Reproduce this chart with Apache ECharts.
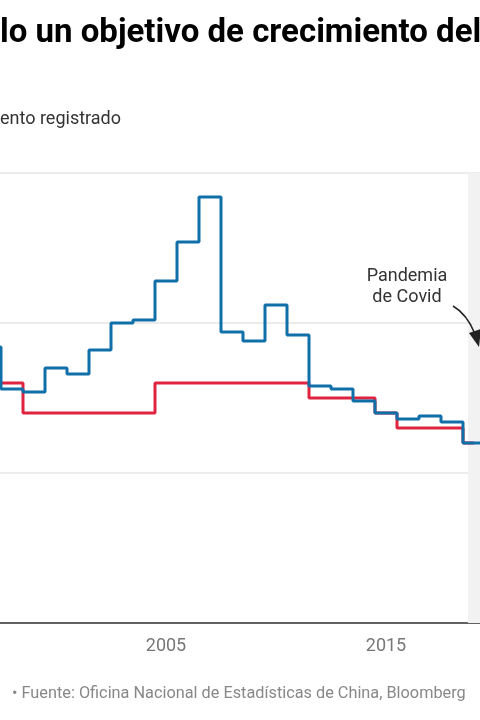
<!DOCTYPE html>
<html>
<head>
<meta charset="utf-8">
<script src="https://cdn.jsdelivr.net/npm/echarts@6/dist/echarts.min.js"></script>
<style>
  html,body{margin:0;padding:0;background:#fff;}
  #chart{width:480px;height:720px;}
</style>
</head>
<body>
<div id="chart"></div>
<script>
// datos: crecimiento del PIB de China (%) y objetivo oficial
var anios = [1997, 1998, 1999, 2000, 2001, 2002, 2003, 2004, 2005, 2006, 2007, 2008,
             2009, 2010, 2011, 2012, 2013, 2014, 2015, 2016, 2017, 2018, 2019, 2020];
var registrado = [9.2, 7.8, 7.7, 8.5, 8.3, 9.1, 10.0, 10.1, 11.4, 12.7, 14.2, 9.7,
                  9.4, 10.6, 9.6, 7.9, 7.8, 7.4, 7.0, 6.8, 6.9, 6.7, 6.0, 2.2];
var objetivo = [8, 8, 7, 7, 7, 7, 7, 7, 8, 8, 8, 8,
                8, 8, 8, 7.5, 7.5, 7.5, 7, 6.5, 6.5, 6.5, 6];
var ticksX = [2005, 2015];
var ticksY = [0, 5, 10, 15];
var pandemia = [2018.73, 2020];

(function(){
  var myChart = echarts.init(document.getElementById('chart'));
  var font = 'Roboto, "Noto Sans", sans-serif';

  var serieObjetivo = objetivo.map(function(v, i){ return [anios[i], v]; });
  var serieRegistrado = registrado.map(function(v, i){ return [anios[i], v]; });

  // el grafico esta recortado: 22 px por año, 2005 en x=166
  var option = {
    animation: false,
    textStyle: { fontFamily: font },
    grid: { left: 0, right: 0, top: 173, bottom: 97 },
    xAxis: {
      type: 'value',
      min: 2005 - 166 / 22,
      max: 2005 + 314 / 22,
      axisLine: { show: true, lineStyle: { color: '#333', width: 1.5 } },
      axisTick: { show: false },
      splitLine: { show: false },
      axisLabel: {
        color: '#777', fontSize: 18, margin: 14, fontFamily: font,
        customValues: ticksX,
        formatter: function(v){ return String(v); }
      }
    },
    yAxis: {
      type: 'value',
      min: ticksY[0],
      max: ticksY[ticksY.length - 1],
      interval: 5,
      axisLine: { show: false },
      axisTick: { show: false },
      axisLabel: { show: false },
      splitLine: { lineStyle: { color: '#e6e6e6', width: 1.5 } }
    },
    series: [
      {
        name: 'Objetivo',
        type: 'line',
        step: 'middle',
        symbol: 'none',
        data: serieObjetivo,
        lineStyle: { color: '#e0233f', width: 3 },
        markArea: {
          silent: true,
          itemStyle: { color: '#f2f2f2' },
          data: [[{ xAxis: pandemia[0] }, { xAxis: pandemia[1] }]]
        }
      },
      {
        name: 'Crecimiento registrado',
        type: 'line',
        step: 'middle',
        symbol: 'none',
        data: serieRegistrado,
        lineStyle: { color: '#0f6fa8', width: 3 }
      }
    ],
    graphic: [
      {
        type: 'text', x: 0, y: 34, z: 10,
        style: { text: 'lo un objetivo de crecimiento del', fontSize: 33, fontWeight: 'bold',
                 fontFamily: font, fill: '#000', verticalAlign: 'middle' }
      },
      {
        type: 'text', x: 0, y: 119, z: 10,
        style: { text: 'ento registrado', fontSize: 18, fontFamily: font, fill: '#333', verticalAlign: 'middle' }
      },
      {
        type: 'text', x: 407, y: 266, z: 10,
        style: { text: 'Pandemia\nde Covid', fontSize: 18, lineHeight: 21, fontFamily: font,
                 fill: '#333', align: 'center', verticalAlign: 'top' }
      },
      {
        type: 'bezierCurve', z: 10,
        shape: { x1: 453, y1: 306, cpx1: 467, cpy1: 314, x2: 475, y2: 334 },
        style: { stroke: '#222', lineWidth: 1.5, fill: null }
      },
      {
        type: 'polygon', z: 10,
        shape: { points: [[479, 347], [469, 333], [481, 329]] },
        style: { fill: '#222' }
      },
      {
        type: 'text', x: 12, y: 694, z: 10,
        style: { text: '• Fuente: Oficina Nacional de Estadísticas de China, Bloomberg', fontSize: 16.3,
                 fontFamily: font, fill: '#888', verticalAlign: 'middle' }
      }
    ]
  };
  myChart.setOption(option);
  window.addEventListener('resize', function(){
    myChart.resize();
  });
})();
</script>
</body>
</html>
